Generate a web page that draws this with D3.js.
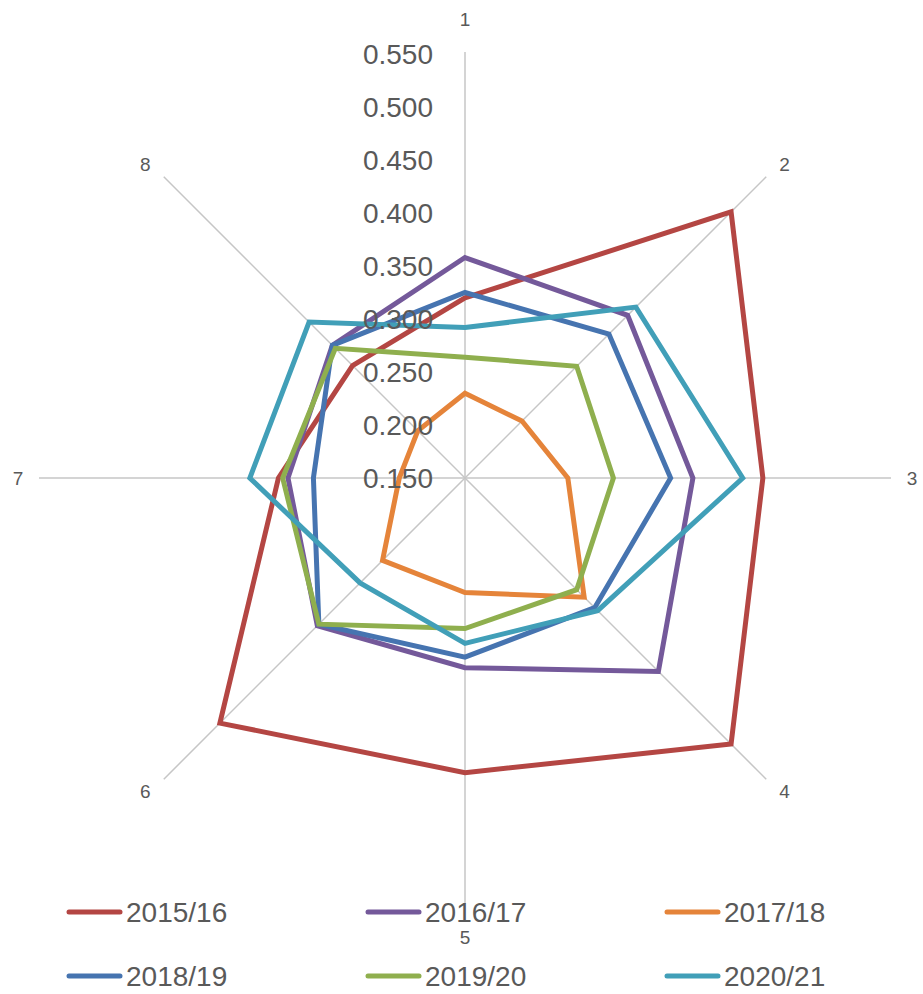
<!DOCTYPE html>
<html>
<head>
<meta charset="utf-8">
<script src="https://cdn.jsdelivr.net/npm/d3@7"></script>
<style>
  body { margin: 0; background: #fff; }
  svg text { font-family: "Liberation Sans", Arial, sans-serif; fill: #595959; }
</style>
</head>
<body>
<div id="radar"></div>
<script>
// categories around the radar (clockwise from top)
var axes = ["1", "2", "3", "4", "5", "6", "7", "8"];
var seasons = ["2015/16", "2016/17", "2017/18", "2018/19", "2019/20", "2020/21"];
var colors = ["#B44643", "#74599A", "#E5843A", "#4674B0", "#8FAF4E", "#419FB8"];

// series values
var s2015 = [0.320, 0.505, 0.431, 0.505, 0.428, 0.477, 0.326, 0.300];
var s2016 = [0.358, 0.367, 0.365, 0.408, 0.329, 0.347, 0.317, 0.327];
var s2017 = [0.230, 0.226, 0.247, 0.309, 0.258, 0.260, 0.212, 0.213];
var s2018 = [0.325, 0.342, 0.344, 0.323, 0.319, 0.345, 0.293, 0.327];
var s2019 = [0.264, 0.299, 0.290, 0.299, 0.292, 0.345, 0.322, 0.323];
var s2020 = [0.292, 0.378, 0.412, 0.327, 0.306, 0.290, 0.353, 0.358];
var allSeries = [s2015, s2016, s2017, s2018, s2019, s2020];

var ticks = [0.150, 0.200, 0.250, 0.300, 0.350, 0.400, 0.450, 0.500, 0.550];

var svgWidth = 923, svgHeight = 994;
var cx = 465, cy = 478;
var maxR = 424;

var svg = d3.select("#radar")
    .append("svg")
    .attr("width", svgWidth)
    .attr("height", svgHeight);

var rScale = d3.scaleLinear()
    .domain([0.15, 0.55])
    .range([0, maxR]);

var angle = d3.scalePoint()
    .domain(axes)
    .range([0, 2 * Math.PI * (axes.length - 1) / axes.length]);

var chartGroup = svg.append("g")
    .attr("transform", `translate(${cx}, ${cy})`);

// spokes
chartGroup.selectAll(".spoke")
    .data(axes)
    .enter()
    .append("line")
    .attr("class", "spoke")
    .attr("x1", 0)
    .attr("y1", 0)
    .attr("x2", d => Math.sin(angle(d)) * (maxR + 2))
    .attr("y2", d => -Math.cos(angle(d)) * (maxR + 2))
    .attr("stroke", "#C6C6C6")
    .attr("stroke-width", 1.5);

// category labels: vertical/horizontal ones sit a bit further out than the diagonals
function isStraight(a) {
    return Math.abs(Math.sin(a)) < 0.01 || Math.abs(Math.cos(a)) < 0.01;
}

chartGroup.selectAll(".catLabel")
    .data(axes)
    .enter()
    .append("text")
    .attr("class", "catLabel")
    .attr("x", d => Math.sin(angle(d)) * (isStraight(angle(d)) ? 447 : 452))
    .attr("y", d => -Math.cos(angle(d)) * (isStraight(angle(d)) ? 459 : 443))
    .attr("text-anchor", "middle")
    .attr("dominant-baseline", "central")
    .style("font-size", "19px")
    .text(d => d);

// series lines
var line = d3.lineRadial()
    .angle((d, i) => angle(axes[i]))
    .radius(d => rScale(d))
    .curve(d3.curveLinearClosed);

chartGroup.selectAll(".series")
    .data(allSeries)
    .enter()
    .append("path")
    .attr("class", "series")
    .attr("d", d => line(d))
    .attr("fill", "none")
    .attr("stroke", (d, i) => colors[i])
    .attr("stroke-width", 5)
    .attr("stroke-linejoin", "miter");

// value tick labels (drawn over the lines like the original)
chartGroup.selectAll(".tickLabel")
    .data(ticks)
    .enter()
    .append("text")
    .attr("class", "tickLabel")
    .attr("x", -32)
    .attr("y", d => -rScale(d))
    .attr("text-anchor", "end")
    .attr("dominant-baseline", "central")
    .style("font-size", "28px")
    .text(d => d3.format(".3f")(d));

// legend, 3 columns x 2 rows
var legendX = [67, 366, 665];
var legendY = [912, 976];

var legend = svg.selectAll(".legendItem")
    .data(seasons)
    .enter()
    .append("g")
    .attr("class", "legendItem")
    .attr("transform", (d, i) => `translate(${legendX[i % 3]}, ${legendY[Math.floor(i / 3)]})`);

legend.append("line")
    .attr("x1", 2)
    .attr("x2", 53)
    .attr("y1", 0)
    .attr("y2", 0)
    .attr("stroke", (d, i) => colors[i])
    .attr("stroke-width", 5)
    .attr("stroke-linecap", "round");

legend.append("text")
    .attr("x", 59)
    .attr("y", 0)
    .attr("dominant-baseline", "central")
    .style("font-size", "28px")
    .text(d => d);
</script>
</body>
</html>
